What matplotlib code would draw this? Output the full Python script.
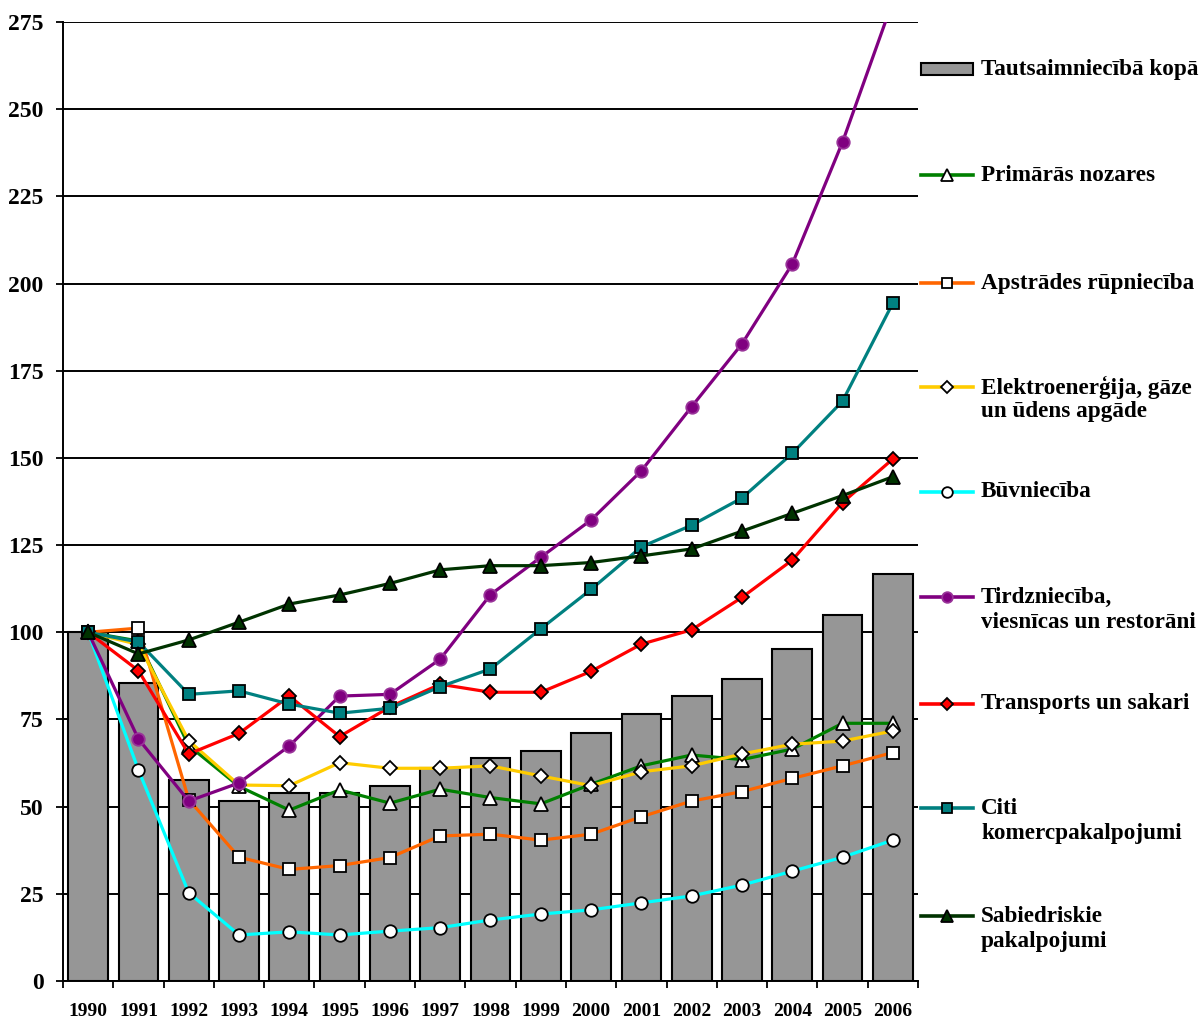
import matplotlib
matplotlib.use("Agg")
import matplotlib.pyplot as plt
from matplotlib.lines import Line2D
from matplotlib.patches import Rectangle
import numpy as np

plt.rcParams['font.family'] = ['Liberation Serif', 'DejaVu Serif']
plt.rcParams['font.weight'] = 'bold'

years = [str(y) for y in range(1990, 2007)]

kopa = [100, 85.5, 57.6, 51.6, 53.9, 53.8, 56.0, 61.0, 63.9, 66.0, 71.1, 76.7, 81.7, 86.7, 95.1, 105.0, 116.8]

primaras = [100, 97.5, 67.5, 55.8, 49.0, 54.8, 51.0, 55.0, 52.6, 50.8, 56.4, 61.7, 64.8, 63.5, 66.5, 73.9, 73.9]
apstrades = [100, 101.2, 52.0, 35.5, 32.0, 33.1, 35.4, 41.6, 42.1, 40.4, 42.1, 47.1, 51.6, 54.3, 58.1, 61.7, 65.5]
elektro = [100, 96.5, 68.9, 56.2, 56.0, 62.6, 61.0, 61.0, 61.7, 58.8, 56.0, 60.0, 61.7, 65.1, 67.9, 68.8, 71.7]
buvn = [100, 60.5, 25.3, 13.2, 14.1, 13.2, 14.3, 15.3, 17.5, 19.2, 20.4, 22.4, 24.4, 27.5, 31.5, 35.5, 40.4]
tirdzn = [100, 69.4, 51.6, 56.8, 67.4, 81.7, 82.2, 92.3, 110.8, 121.5, 132.2, 146.3, 164.7, 182.7, 205.6, 240.6, 281.0]
transp = [100, 89.0, 65.1, 71.0, 81.7, 70.1, 78.6, 85.1, 82.8, 82.8, 88.8, 96.6, 100.7, 110.0, 120.7, 137.2, 149.7]
citi = [100, 97.2, 82.2, 83.2, 79.4, 76.8, 78.2, 84.4, 89.5, 101.0, 112.3, 124.5, 130.7, 138.5, 151.3, 166.3, 194.4]
sabiedr = [100, 93.8, 97.8, 102.9, 108.1, 110.7, 114.0, 117.9, 119.1, 119.1, 120.0, 121.9, 123.9, 129.0, 134.1, 139.2, 144.6]

bar_label = "Tautsaimniecībā kopā"
series = [
    ("Primārās nozares", primaras, '#008000', '^', 'white', 'black'),
    ("Apstrādes rūpniecība", apstrades, '#FF6600', 's', 'white', 'black'),
    ("Elektroenerģija, gāze\nun ūdens apgāde", elektro, '#FFCC00', 'D', 'white', 'black'),
    ("Būvniecība", buvn, '#00FFFF', 'o', 'white', 'black'),
    ("Tirdzniecība,\nviesnīcas un restorāni", tirdzn, '#800080', 'o', '#800080', '#993399'),
    ("Transports un sakari", transp, '#FF0000', 'D', '#FF0000', 'black'),
    ("Citi\nkomercpakalpojumi", citi, '#008080', 's', '#008080', 'black'),
    ("Sabiedriskie\npakalpojumi", sabiedr, '#003300', '^', '#003300', 'black'),
]
marker_size = {'^': 9.5, 's': 8.5, 'D': 7.5, 'o': 9}

W, H = 1204, 1019
fig = plt.figure(figsize=(W / 100, H / 100), dpi=100)
ax = fig.add_axes([63 / W, 1 - 981 / H, (918 - 63) / W, (981 - 22) / H])

x = np.arange(len(years))
ax.bar(x, kopa, width=0.79, color='#969696', edgecolor='black', linewidth=1.5, zorder=2)

for label, vals, col, mk, mfc, mec in series:
    ax.plot(x, vals, color=col, linewidth=2.3, marker=mk, markersize=marker_size[mk],
            markerfacecolor=mfc, markeredgecolor=mec, markeredgewidth=1.3, zorder=3)

ax.set_xlim(-0.5, len(years) - 0.5)
ax.set_ylim(0, 275)
ax.set_yticks(np.arange(0, 276, 25))
ax.yaxis.grid(True, color='black', linewidth=1.4, zorder=0)
ax.set_axisbelow(True)

ax.set_xticks(x)
ax.set_xticklabels(years, fontsize=14, fontweight='bold')
ax.set_xticks(np.arange(-0.5, len(years), 1), minor=True)
ax.tick_params(axis='x', which='major', length=0, pad=16)
ax.tick_params(axis='x', which='minor', length=5, width=1.3, direction='out')
ax.tick_params(axis='y', length=5, width=1.3, pad=9, labelsize=17)
for t in ax.get_yticklabels():
    t.set_fontweight('bold')

for s in ['top', 'right']:
    ax.spines[s].set_visible(False)
for s in ['left', 'bottom']:
    ax.spines[s].set_linewidth(1.4)

# legend drawn by hand on the right
def fy(py):
    return 1 - py / H

lx0, lx1, lmid, tx = 921 / W, 973 / W, 947 / W, 981 / W
fig.add_artist(Rectangle((lx0, fy(75)), lx1 - lx0, 12 / H, transform=fig.transFigure,
                         facecolor='#969696', edgecolor='black', linewidth=1.5))
fig.text(tx, fy(69), bar_label, fontsize=16.7, fontweight='bold', va='center', ha='left')

leg_y = [175, 283, 387, 492, 597, 704, 808, 916]
for (label, vals, col, mk, mfc, mec), py in zip(series, leg_y):
    fig.add_artist(Line2D([lx0, lmid, lx1], [fy(py)] * 3, transform=fig.transFigure,
                          color=col, linewidth=2.6, marker=mk, markevery=[1],
                          markersize=marker_size[mk] * 0.85, markerfacecolor=mfc,
                          markeredgecolor=mec, markeredgewidth=1.3))
    for i, line in enumerate(label.split('\n')):
        fig.text(tx, fy(py + 25 * i), line, fontsize=16.7, fontweight='bold',
                 va='center', ha='left')

fig.savefig('out.png', dpi=100)
